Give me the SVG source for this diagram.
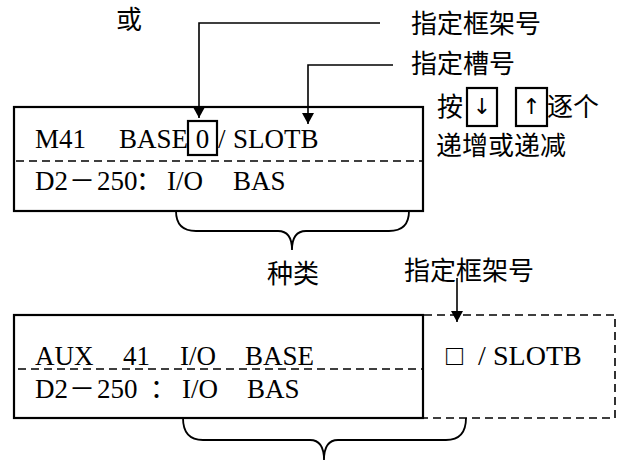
<svg xmlns="http://www.w3.org/2000/svg" width="619" height="462" viewBox="0 0 619 462">
<style>
.lat{font-family:"Liberation Serif","Times New Roman",serif;font-size:27px;fill:#000}
.cjk{font-family:"Noto Sans CJK SC","Noto Sans CJK JP",sans-serif;font-size:26px;fill:#000}
.arr{font-family:"DejaVu Sans","Liberation Sans",sans-serif;font-size:22px;fill:#000}
.box{fill:none;stroke:#000;stroke-width:2.2}
.dash{fill:none;stroke:#000;stroke-width:1.6;stroke-dasharray:8 5}
.ln{fill:none;stroke:#000;stroke-width:1.6}
.br{fill:none;stroke:#000;stroke-width:1.8}
</style>
<defs>
<marker id="ah" markerUnits="userSpaceOnUse" markerWidth="12" markerHeight="12" refX="11" refY="6" orient="auto">
<path d="M0,0 L11,6 L0,12 Z" fill="#000"/>
</marker>
</defs>
<rect width="619" height="462" fill="#fff"/>

<g id="label-or"><text class="cjk" x="116" y="29">或</text></g>
<g id="label-frame"><text class="cjk" x="411" y="33">指定框架号</text></g>
<g id="label-slot"><text class="cjk" x="411" y="73">指定槽号</text></g>
<g id="label-keys">
<text class="cjk" x="437" y="116">按</text>
<rect class="box" x="467" y="88" width="30" height="38"/>
<text class="arr" x="482" y="114" text-anchor="middle">↓</text>
<rect class="box" x="516" y="88" width="31" height="38"/>
<text class="arr" x="531.5" y="114" text-anchor="middle">↑</text>
<text class="cjk" x="547" y="116">逐个</text>
<text class="cjk" x="436" y="155">递增或递减</text>
</g>

<g id="box-m41">
<rect class="box" x="14" y="107" width="409" height="104"/>
<line class="dash" x1="16" y1="161" x2="423" y2="161"/>
<text class="lat" y="148"><tspan x="35">M41</tspan><tspan x="119">BASE</tspan><tspan x="218">/</tspan><tspan x="233">SLOTB</tspan></text>
<rect class="box" x="188" y="121" width="29" height="34"/>
<text class="lat" x="202.5" y="148" text-anchor="middle">0</text>
<text class="lat" y="190"><tspan x="35">D2</tspan><tspan x="97">250</tspan><tspan x="167">I/O</tspan><tspan x="233">BAS</tspan></text>
<text class="cjk" y="190"><tspan x="69">－</tspan><tspan x="136">：</tspan></text>
</g>

<g id="brace-kind"><path class="br" d="M176,211 Q176,231 196,231 L278,231 Q292,231 292,250 Q292,231 306,231 L389,231 Q409,231 409,211"/></g>
<g id="label-kind"><text class="cjk" x="267" y="283">种类</text></g>
<g id="label-frame2"><text class="cjk" x="404" y="280">指定框架号</text></g>

<g id="box-aux">
<rect class="box" x="14" y="315" width="409" height="103"/>
<line class="dash" x1="18" y1="369" x2="423" y2="369"/>
<text class="lat" y="365"><tspan x="35">AUX</tspan><tspan x="123">41</tspan><tspan x="180">I/O</tspan><tspan x="245">BASE</tspan></text>
<text class="lat" y="398"><tspan x="35">D2</tspan><tspan x="97">250</tspan><tspan x="182">I/O</tspan><tspan x="247">BAS</tspan></text>
<text class="cjk" y="398"><tspan x="69">－</tspan><tspan x="150">：</tspan></text>
</g>

<g id="box-slot">
<path class="dash" d="M424,315 H615 V418 H424"/>
<text class="lat" y="365" style="font-size:28px"><tspan x="446">□</tspan><tspan x="478">/</tspan><tspan x="493">SLOTB</tspan></text>
</g>

<g id="brace-bottom"><path class="br" d="M183,418 Q183,440 203,440 L310,440 Q324,440 324,460 Q324,440 338,440 L446,440 Q466,440 466,418"/></g>

<g id="connectors">
<path class="ln" d="M380,23 H199 V118" marker-end="url(#ah)"/>
<path class="ln" d="M393,65 H308 V124" marker-end="url(#ah)"/>
<path class="ln" d="M457,278 V322" marker-end="url(#ah)"/>
</g>
</svg>
